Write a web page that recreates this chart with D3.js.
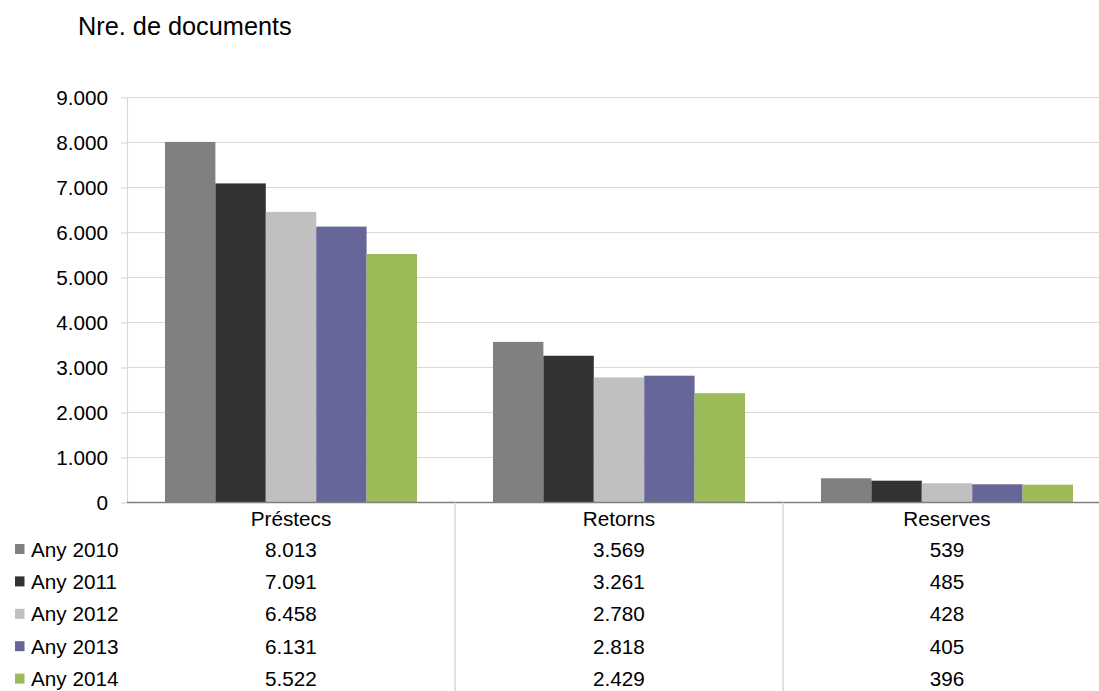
<!DOCTYPE html>
<html>
<head>
<meta charset="utf-8">
<script src="https://cdn.jsdelivr.net/npm/d3@7"></script>
<style>
  html, body { margin: 0; padding: 0; background: #ffffff; }
  svg { display: block; font-family: "Liberation Sans", Arial, sans-serif; }
</style>
</head>
<body>
<svg id="chart" width="1099" height="691"></svg>
<script>
const categories = ["Préstecs", "Retorns", "Reserves"];
const seriesNames = ["Any 2010", "Any 2011", "Any 2012", "Any 2013", "Any 2014"];
const any2010 = [8013, 3569, 539];
const any2011 = [7091, 3261, 485];
const any2012 = [6458, 2780, 428];
const any2013 = [6131, 2818, 405];
const any2014 = [5522, 2429, 396];
const seriesColors = ["#808080", "#333333", "#c0c0c0", "#666699", "#9bbb59"];
const yTicks = [0, 1000, 2000, 3000, 4000, 5000, 6000, 7000, 8000, 9000];
const titleText = "Nre. de documents";

const seriesValues = [any2010, any2011, any2012, any2013, any2014];
const series = seriesNames.map((name, i) => ({ name, values: seriesValues[i], color: seriesColors[i] }));

const fmt = v => d3.format(",")(v).replace(/,/g, ".");
const FS = 20.7;

const svg = d3.select("#chart");
const plotLeft = 127, step = 328, plotTop = 97.5, plotBottom = 502.5;

const x0 = d3.scaleBand().domain(categories).range([plotLeft, plotLeft + step * categories.length]).paddingInner(0).paddingOuter(0);
const x1 = d3.scaleBand().domain(seriesNames).range([38, step - 38]).padding(0);
const y = d3.scaleLinear().domain([0, 9000]).range([plotBottom, plotTop]);

// Title
svg.append("text").attr("x", 78).attr("y", 35).attr("font-size", 25.3).attr("fill", "#000").text(titleText);

// Y axis with ticks
const yAxis = d3.axisLeft(y).tickValues(yTicks).tickFormat(fmt).tickSize(6).tickPadding(13);
const gAxis = svg.append("g").attr("transform", `translate(${plotLeft},0)`).call(yAxis);
gAxis.select(".domain").attr("stroke", "#d9d9d9").attr("stroke-width", 1.2).attr("d", `M0.5,${plotTop}V${plotBottom}`);
gAxis.selectAll(".tick line").attr("stroke", "#d9d9d9").attr("stroke-width", 1.2);
gAxis.selectAll(".tick text").attr("font-size", FS).attr("fill", "#000").attr("font-family", "Liberation Sans, Arial, sans-serif");

// Gridlines
svg.append("g").selectAll("line").data(yTicks.filter(d => d > 0)).join("line")
  .attr("x1", plotLeft).attr("x2", 1099)
  .attr("y1", d => y(d)).attr("y2", d => y(d))
  .attr("stroke", "#d9d9d9").attr("stroke-width", 1.2);

// Bars
const groups = svg.append("g").selectAll("g").data(categories).join("g")
  .attr("transform", c => `translate(${x0(c)},0)`);
groups.selectAll("rect").data((c, ci) => series.map(s => ({ s, v: s.values[ci] }))).join("rect")
  .attr("x", d => x1(d.s.name)).attr("width", x1.bandwidth())
  .attr("y", d => y(d.v)).attr("height", d => y(0) - y(d.v))
  .attr("fill", d => d.s.color);

// Bottom axis line
svg.append("line").attr("x1", plotLeft).attr("x2", 1099).attr("y1", plotBottom).attr("y2", plotBottom)
  .attr("stroke", "#7f7f7f").attr("stroke-width", 1.5);

// Table vertical dividers
svg.append("g").selectAll("line").data(categories.slice(1)).join("line")
  .attr("x1", c => x0(c)).attr("x2", c => x0(c))
  .attr("y1", plotBottom).attr("y2", 691)
  .attr("stroke", "#d9d9d9").attr("stroke-width", 1.5);

// Category labels
svg.append("g").selectAll("text").data(categories).join("text")
  .attr("x", c => x0(c) + step / 2).attr("y", 525.5)
  .attr("text-anchor", "middle").attr("font-size", FS).attr("fill", "#000")
  .text(c => c);

// Table rows
const rowY = i => 556.5 + i * 32.4;
const rows = svg.append("g").selectAll("g").data(series).join("g");
rows.append("rect").attr("x", 15).attr("y", (d, i) => rowY(i) - 12.5).attr("width", 9.5).attr("height", 10)
  .attr("fill", d => d.color);
rows.append("text").attr("x", 31).attr("y", (d, i) => rowY(i)).attr("font-size", FS).attr("fill", "#000")
  .text(d => d.name);
rows.each(function(d, i) {
  d3.select(this).selectAll("text.val").data(categories).join("text").attr("class", "val")
    .attr("x", c => x0(c) + step / 2).attr("y", rowY(i))
    .attr("text-anchor", "middle").attr("font-size", FS).attr("fill", "#000")
    .text((c, ci) => fmt(d.values[ci]));
});
</script>
</body>
</html>
